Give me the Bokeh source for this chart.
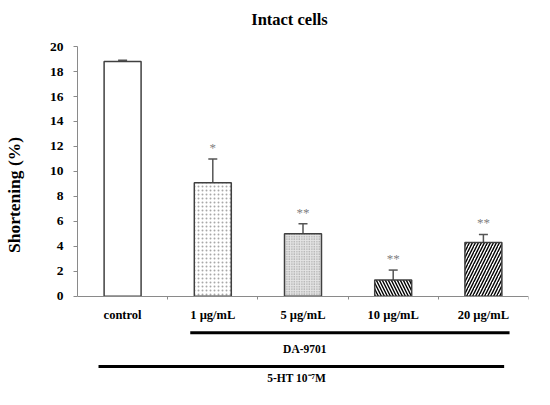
from bokeh.plotting import figure
from bokeh.models import (Range1d, LinearAxis, FixedTicker, Whisker, TeeHead,
                          ColumnDataSource)
from bokeh.core.properties import value
from bokeh.embed import file_html
from bokeh.resources import INLINE

# data
categories = ["control", "1 \u00b5g/mL", "5 \u00b5g/mL", "10 \u00b5g/mL", "20 \u00b5g/mL"]
shortening = [18.8, 9.1, 5.0, 1.3, 4.3]
sem = [0.1, 1.9, 0.8, 0.8, 0.65]
stars = ["", "*", "**", "**", "**"]
y_ticks = [0, 2, 4, 6, 8, 10, 12, 14, 16, 18, 20]

FONT = "Liberation Serif"
AXIS_GREY = "#8a8a8a"

x = [i + 0.5 for i in range(len(categories))]
upper = [v + e for v, e in zip(shortening, sem)]

src = ColumnDataSource(dict(x=x, top=shortening, upper=upper, cat=categories))
marked = [i for i, s in enumerate(stars) if s]
star_src = ColumnDataSource(dict(x=[x[i] for i in marked],
                                 y=[upper[i] + 0.35 for i in marked],
                                 stars=[stars[i] for i in marked]))

p = figure(width=534, height=389, output_backend="svg", toolbar_location=None,
           x_range=Range1d(0, 5), y_range=Range1d(-7.465, 23.69),
           x_axis_location=None, min_border_left=76, min_border_right=6,
           min_border_top=0, min_border_bottom=0)
p.outline_line_color = None
p.xgrid.visible = False
p.ygrid.visible = False
p.background_fill_color = "white"

# y axis
yax = p.yaxis[0]
yax.bounds = (0, 20)
yax.ticker = FixedTicker(ticks=y_ticks)
yax.minor_tick_line_color = None
yax.major_tick_in = 0
yax.major_tick_out = 4
yax.axis_line_color = AXIS_GREY
yax.major_tick_line_color = AXIS_GREY
yax.major_label_text_font = FONT
yax.major_label_text_font_style = "bold"
yax.major_label_text_font_size = "13.5px"
yax.major_label_text_color = "black"
yax.major_label_standoff = 10
yax.axis_label = "Shortening (%)"
yax.axis_label_text_font = FONT
yax.axis_label_text_font_style = "bold"
yax.axis_label_text_font_size = "17.5px"
yax.axis_label_text_color = "black"
yax.axis_label_standoff = 23

# x axis at y = 0, small ticks between the groups
xax = LinearAxis(fixed_location=0, ticker=FixedTicker(ticks=[], minor_ticks=[1, 2, 3, 4, 5]))
xax.axis_line_color = AXIS_GREY
xax.major_tick_line_color = None
xax.minor_tick_line_color = AXIS_GREY
xax.minor_tick_in = 0
xax.minor_tick_out = 3
p.add_layout(xax, "below")

# bars
fills = ["white", "white", "#e4e4e4", "white", "white"]
hatches = [" ", "dot", "dot", "left_diagonal_line", "right_diagonal_line"]
hatch_scales = [6, 4, 2.5, 6, 6]
hatch_weights = [1, 0.8, 1, 1.4, 1.4]
hatch_colors = ["white", "#a8a8a8", "#8a8a8a", "black", "black"]
for i in range(len(categories)):
    p.vbar(x=[x[i]], top=[shortening[i]], bottom=0, width=0.41,
           fill_color=fills[i], line_color="#404040", line_width=1.5,
           hatch_pattern=hatches[i], hatch_scale=hatch_scales[i],
           hatch_weight=hatch_weights[i], hatch_color=hatch_colors[i])

# error bars
p.add_layout(Whisker(source=src, base="x", lower="top", upper="upper",
                     line_color="#555555", line_width=1.5, lower_head=None,
                     upper_head=TeeHead(size=9, line_color="#555555", line_width=1.5)))

# significance stars
p.text(x="x", y="y", text="stars", source=star_src, text_align="center",
       text_baseline="bottom", text_font=value(FONT), text_font_size="13px",
       text_color="#808080")

# category labels
p.text(x="x", y=-1.47, text="cat", source=src, text_align="center",
       text_baseline="middle", text_font=value(FONT), text_font_style="bold",
       text_font_size="12.5px", text_color="black")

# title
p.text(x=[2.35], y=[22.15], text=["Intact cells"], text_align="center",
       text_baseline="middle", text_font=value(FONT), text_font_style="bold",
       text_font_size="16.5px", text_color="black")

# treatment brackets
p.segment(x0=[1.25, 0.233], y0=[-2.92, -5.62], x1=[4.79, 4.73], y1=[-2.92, -5.62],
          line_color="black", line_width=3)
p.text(x=[2.52, 2.43], y=[-4.24, -6.54], text=["DA-9701", "5-HT 10\u207b\u2077M"],
       text_align="center", text_baseline="middle", text_font=value(FONT),
       text_font_style="bold", text_font_size="11.5px", text_color="black")

open("out.html", "w").write(file_html(p, INLINE))
